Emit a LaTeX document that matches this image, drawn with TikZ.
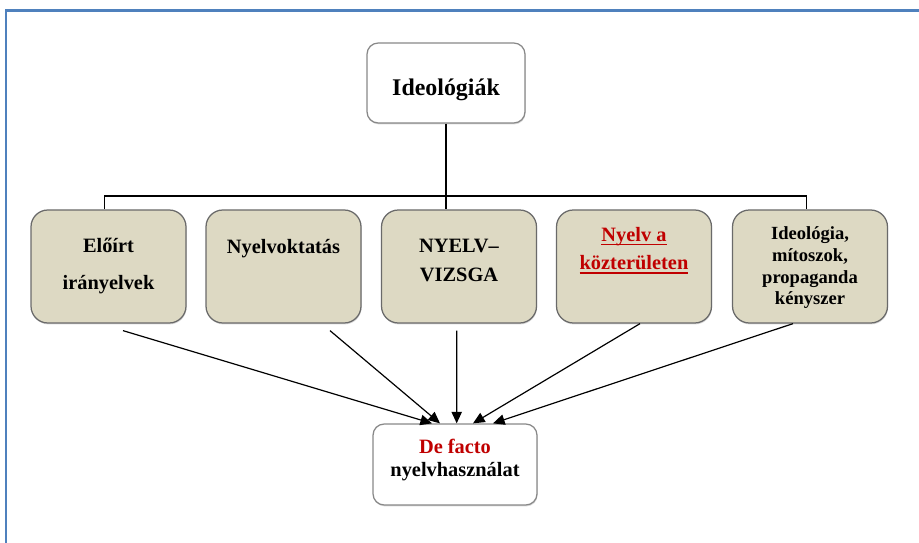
\documentclass[tikz,border=0pt]{standalone}
\usepackage{fontspec}
\setmainfont{Liberation Serif}
\usetikzlibrary{positioning, arrows.meta, shadows}
\definecolor{fBlue}{HTML}{4F81BD}
\definecolor{fTan}{HTML}{DDD9C3}
\definecolor{fEdge}{HTML}{6A6A6A}
\definecolor{fRed}{HTML}{C00000}

% red underline, word style
\newsavebox{\ulbox}
\newcommand{\ulred}[1]{\sbox{\ulbox}{#1}\rlap{\rule[-2.6pt]{\wd\ulbox}{1.1pt}}\usebox{\ulbox}}

\begin{document}
\begin{tikzpicture}[
  every node/.style={font=\bfseries\fontsize{14.5}{17}\selectfont},
  topbox/.style={draw=fEdge!80, fill=white, line width=0.9pt, rounded corners=8pt,
        drop shadow={shadow xshift=0.4pt, shadow yshift=-1pt, opacity=0.3}},
  catbox/.style={draw=fEdge, fill=fTan, line width=0.9pt, rounded corners=12pt,
        minimum width=3.875cm, minimum height=2.825cm, inner sep=0pt,
        drop shadow={shadow xshift=0.4pt, shadow yshift=-1pt, opacity=0.3}},
  boxtext/.style={anchor=north, align=center, inner sep=0pt},
  arr/.style={-{Triangle[length=2.9mm, width=2.6mm]}, line width=0.85pt},
  tree/.style={line width=0.8pt},
]
  \useasboundingbox (0,0) rectangle (22.975,-13.575);

  % Frame
  \draw[fBlue, line width=1.6pt] (0.15,-13.575) |- (22.975,-0.2625);

  % Top box
  \node[topbox, minimum width=3.95cm, minimum height=2cm] (ideo) at (11.15,-2.075) {};
  \node[boxtext, font=\bfseries\fontsize{17}{20}\selectfont] (t0)
        at ([yshift=-0.9cm]ideo.north) {Ideológiák};

  % Category boxes
  \node[catbox] (b1) at (2.7125,-6.6625) {};
  \node[catbox] (b2) at (7.0875,-6.6625) {};
  \node[catbox] (b3) at (11.475,-6.6625) {};
  \node[catbox] (b4) at (15.85,-6.6625) {};
  \node[catbox] (b5) at (20.25,-6.6625) {};

  \node[boxtext, font=\bfseries\fontsize{14.5}{26.3}\selectfont] (t1)
        at ([yshift=-0.72cm]b1.north) {Előírt\\irányelvek};
  \node[boxtext] (t2) at ([yshift=-0.75cm]b2.north) {Nyelvoktatás};
  \node[boxtext, font=\bfseries\fontsize{14.5}{20.6}\selectfont] (t3)
        at ([yshift=-0.74cm]b3.north) {NYELV–\\VIZSGA};
  \node[boxtext, fRed, font=\bfseries\fontsize{14.5}{20}\selectfont] (t4)
        at ([yshift=-0.45cm]b4.north) {\ulred{Nyelv a}\\\ulred{közterületen}};
  \node[boxtext, font=\bfseries\fontsize{13.2}{15.4}\selectfont] (t5)
        at ([yshift=-0.43cm]b5.north) {Ideológia,\\mítoszok,\\propaganda\\kényszer};

  % Bottom box
  \node[topbox, minimum width=4.1cm, minimum height=2.025cm] (fact) at (11.375,-11.6125) {};
  \node[boxtext] (t6) at ([yshift=-0.375cm]fact.north)
        {\textcolor{fRed}{De facto}\\nyelvhasználat};

  % Tree lines
  \coordinate (bus) at (11.15,-4.9);
  \draw[tree] (ideo.south) -- (ideo.south |- b3.north);
  \draw[tree] ([xshift=-0.09cm]b1.north) |- (bus) -| ([xshift=-0.09cm]b5.north);

  % Arrows into the bottom box
  \draw[arr] ([xshift=0.3625cm, yshift=-0.175cm]b1.south) -- ([xshift=-0.575cm]fact.north);
  \draw[arr] ([xshift=1.1625cm, yshift=-0.175cm]b2.south) -- ([xshift=-0.375cm]fact.north);
  \draw[arr] ([xshift=-0.0575cm, yshift=-0.175cm]b3.south) -- ([xshift=0.0425cm]fact.north);
  \draw[arr] ([xshift=0.15cm]b4.south) -- ([xshift=0.45cm]fact.north);
  \draw[arr] ([xshift=-0.425cm]b5.south) -- ([xshift=0.95cm]fact.north);
\end{tikzpicture}
\end{document}
